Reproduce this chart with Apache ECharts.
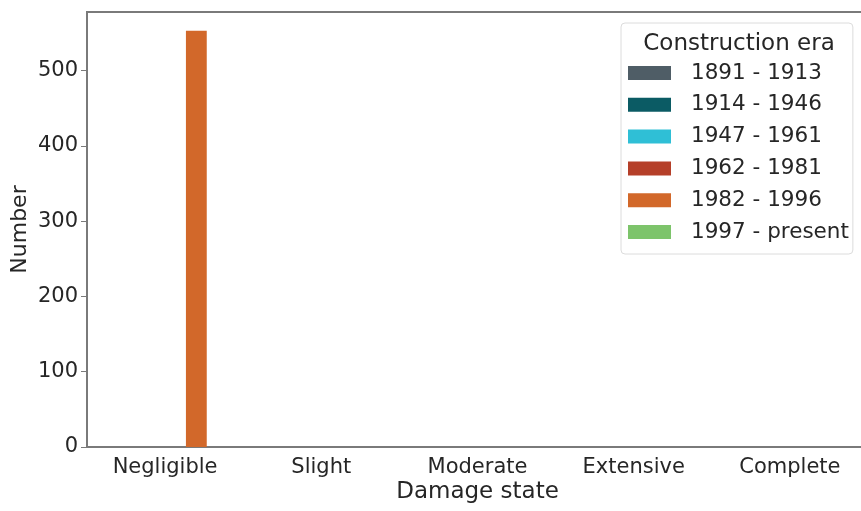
<!DOCTYPE html>
<html>
<head>
<meta charset="utf-8">
<script src="https://cdn.jsdelivr.net/npm/echarts@6/dist/echarts.min.js"></script>
<style>
  html, body { margin: 0; padding: 0; background: #fff; }
  #chart { width: 861px; height: 511px; }
</style>
</head>
<body>
<div id="chart"></div>
<script>
// Damage states on the x axis
const damageStates = ['Negligible', 'Slight', 'Moderate', 'Extensive', 'Complete'];

// Construction eras (one bar series each)
const eras = ['1891 - 1913', '1914 - 1946', '1947 - 1961', '1962 - 1981', '1982 - 1996', '1997 - present'];
const eraColors = ['#4f5d66', '#0b5b64', '#2fbfd6', '#b53f29', '#d2682a', '#7dc46b'];

// Building counts per damage state, per era
const counts1891_1913 = [0, 0, 0, 0, 0];
const counts1914_1946 = [0, 0, 0, 0, 0];
const counts1947_1961 = [0, 0, 0, 0, 0];
const counts1962_1981 = [0, 0, 0, 0, 0];
const counts1982_1996 = [553, 0, 0, 0, 0];
const counts1997_present = [0, 0, 0, 0, 0];

const seriesValues = [counts1891_1913, counts1914_1946, counts1947_1961,
                      counts1962_1981, counts1982_1996, counts1997_present];

const yTicks = [0, 100, 200, 300, 400, 500];

const FONT = 'DejaVu Sans';
const TEXT = '#262626';
const SPINE = '#7a7a7a';

const chart = echarts.init(document.getElementById('chart'), null, { renderer: 'canvas' });

chart.setOption({
  animation: false,
  backgroundColor: '#fff',
  textStyle: { fontFamily: FONT },
  title: {
    text: 'Construction era',
    left: 734,
    top: 28,
    textAlign: 'center',
    textStyle: { fontFamily: FONT, fontSize: 23, fontWeight: 'normal', color: TEXT }
  },
  legend: {
    data: eras,
    orient: 'vertical',
    left: 621,
    top: 23,
    padding: [39, 4, 11, 7],
    itemWidth: 43,
    itemHeight: 14,
    itemGap: 9.8,
    icon: 'rect',
    backgroundColor: 'rgba(255,255,255,0.85)',
    borderColor: '#dcdcdc',
    borderWidth: 1,
    borderRadius: 4,
    textStyle: { fontFamily: FONT, fontSize: 21.5, color: TEXT, lineHeight: 22, padding: [0, 0, 0, 15] }
  },
  grid: {
    left: 87,
    width: 781,
    top: 12,
    bottom: 64,
    show: true,
    borderColor: SPINE,
    borderWidth: 2,
    outerBoundsMode: 'none'
  },
  xAxis: {
    type: 'category',
    data: damageStates,
    name: 'Damage state',
    nameLocation: 'middle',
    nameGap: 34,
    nameMoveOverlap: false,
    nameTextStyle: { fontFamily: FONT, fontSize: 23, color: TEXT },
    axisLine: { lineStyle: { color: SPINE, width: 2 } },
    axisTick: { alignWithLabel: true, length: 6, lineStyle: { color: SPINE } },
    axisLabel: { fontFamily: FONT, fontSize: 21, color: TEXT, margin: 10 },
    splitLine: { show: false }
  },
  yAxis: {
    type: 'value',
    min: 0,
    max: 578,
    interval: 100,
    name: 'Number',
    nameLocation: 'middle',
    nameGap: 56,
    nameMoveOverlap: false,
    nameTextStyle: { fontFamily: FONT, fontSize: 22, color: TEXT },
    axisLine: { show: true, lineStyle: { color: SPINE, width: 2 } },
    axisTick: { show: true, length: 6, customValues: yTicks, lineStyle: { color: SPINE } },
    axisLabel: {
      fontFamily: FONT, fontSize: 21, color: TEXT, margin: 9,
      customValues: yTicks
    },
    splitLine: { show: false }
  },
  series: eras.map((name, i) => ({
    name: name,
    type: 'bar',
    data: seriesValues[i],
    itemStyle: { color: eraColors[i] },
    barGap: '0%',
    barCategoryGap: '20%'
  }))
});
</script>
</body>
</html>
